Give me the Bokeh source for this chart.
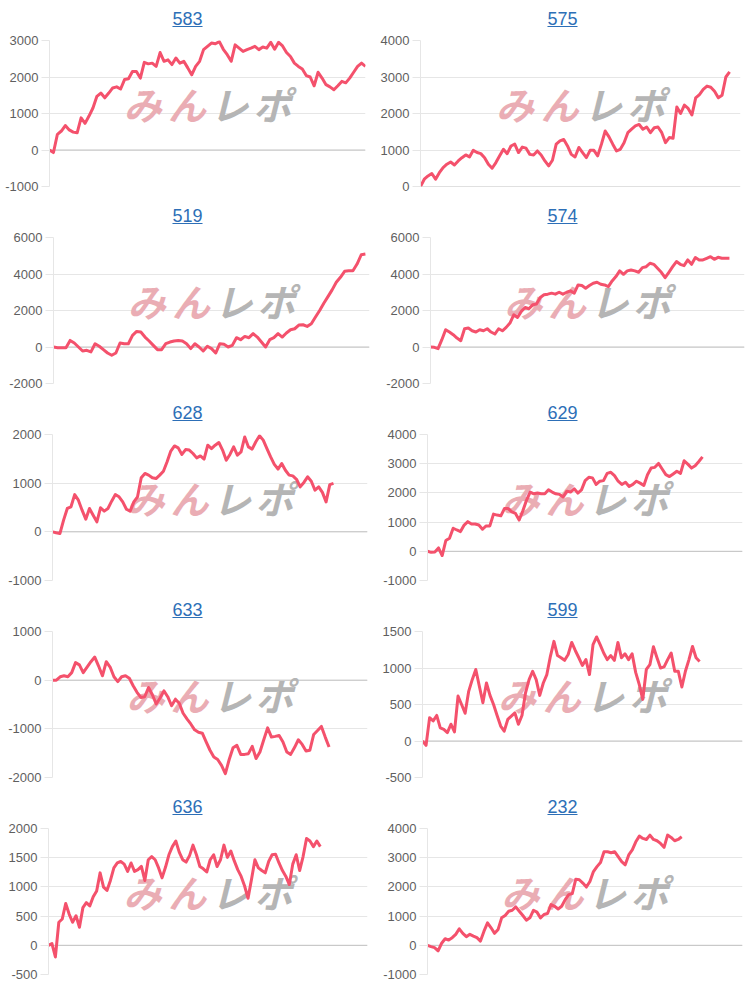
from bokeh.plotting import figure
from bokeh.models import Range1d, Div, FixedTicker, Label, Span, CustomJSTickFormatter
from bokeh.layouts import column, row
from bokeh.embed import file_html
from bokeh.resources import INLINE

# ---------------- data ----------------
names = ["583", "575", "519", "574", "628", "629", "633", "599", "636", "232"]

s583 = [0, -70, 430, 520, 670, 550, 490, 470, 880, 730, 930, 1150, 1470, 1560, 1430, 1560, 1700, 1730, 1670, 1930,
        1950, 2150, 2150, 1970, 2400, 2360, 2380, 2290, 2670, 2430, 2470, 2340, 2520, 2380, 2430, 2250, 2060, 2290,
        2430, 2750, 2840, 2930, 2910, 2970, 2760, 2610, 2430, 2880, 2790, 2700, 2750, 2790, 2840, 2750, 2820, 2790,
        2950, 2760, 2950, 2850, 2670, 2560, 2380, 2290, 2220, 2040, 2000, 1760, 2130, 1970, 1790, 1730, 1650, 1760,
        1880, 1840, 1970, 2130, 2290, 2380, 2290]
s575 = [0, 200, 290, 355, 200, 380, 520, 610, 670, 590, 700, 790, 865, 810, 990, 930, 900, 790, 610, 500, 655, 840,
        1020, 900, 1110, 1160, 930, 1080, 1050, 880, 865, 975, 865, 700, 565, 720, 1160, 1250, 1290, 1110, 880, 810,
        1070, 930, 790, 990, 990, 840, 1160, 1520, 1360, 1160, 975, 1020, 1200, 1475, 1570, 1660, 1700, 1570, 1630,
        1475, 1610, 1630, 1475, 1200, 1340, 1320, 2180, 2000, 2230, 2140, 1960, 2430, 2520, 2660, 2750, 2720, 2610,
        2430, 2500, 3000, 3140]
s519 = [0, -40, -40, -40, 360, 220, 0, -220, -180, -270, 180, 40, -145, -330, -455, -330, 220, 180, 180, 640, 855,
        820, 545, 330, 90, -145, -145, 180, 270, 330, 360, 330, 180, -90, 180, 0, -220, 40, -90, -330, 180, 145, 0,
        90, 510, 400, 580, 510, 730, 545, 270, 0, 400, 510, 730, 545, 765, 945, 1000, 1200, 1220, 1130, 1270, 1640,
        2000, 2400, 2760, 3130, 3545, 3820, 4145, 4180, 4180, 4545, 5055, 5090]
s574 = [0, -20, -90, 400, 945, 820, 675, 490, 345, 1000, 1040, 890, 820, 945, 890, 1000, 820, 710, 1000, 890, 1075,
        1310, 1765, 1620, 1950, 2165, 2095, 2310, 2350, 2710, 2860, 2895, 2950, 2895, 3000, 2895, 3000, 3075, 2950,
        3400, 3370, 3220, 3370, 3495, 3550, 3440, 3400, 3310, 3620, 3860, 4170, 3985, 4170, 4220, 4170, 4095, 4350,
        4400, 4590, 4530, 4310, 4095, 3800, 4095, 4400, 4680, 4530, 4460, 4770, 4530, 4900, 4770, 4770, 4860, 4950,
        4805, 4915, 4860, 4860, 4860]
s628 = [0, -20, -35, 240, 480, 515, 765, 650, 445, 260, 480, 340, 205, 495, 425, 480, 630, 765, 720, 615, 465, 425,
        615, 720, 1110, 1200, 1165, 1110, 1095, 1165, 1245, 1440, 1660, 1765, 1725, 1590, 1690, 1680, 1610, 1520,
        1560, 1495, 1780, 1710, 1780, 1835, 1680, 1470, 1590, 1745, 1575, 1645, 1950, 1745, 1700, 1850, 1975, 1885,
        1710, 1540, 1385, 1290, 1405, 1265, 1165, 1150, 1080, 925, 1015, 1130, 1040, 855, 925, 810, 615, 970, 995]
s629 = [0, -35, -25, 115, -145, 370, 450, 790, 730, 675, 900, 1015, 935, 935, 900, 755, 870, 870, 1275, 1240, 1215,
        1465, 1465, 1350, 1295, 1070, 1385, 1745, 2030, 1970, 1995, 1970, 1970, 2105, 2030, 1970, 1950, 1860, 2060,
        2030, 2140, 1995, 2105, 2420, 2535, 2515, 2290, 2400, 2420, 2670, 2705, 2590, 2400, 2290, 2365, 2220, 2290,
        2400, 2335, 2255, 2625, 2850, 2875, 3010, 2820, 2625, 2560, 2650, 2740, 2670, 3100, 2985, 2850, 2930, 3075,
        3235]
s633 = [0, 0, 70, 90, 70, 155, 360, 315, 155, 270, 380, 475, 290, 90, 380, 270, 70, -30, 70, 90, 40, -115, -250,
        -355, -340, -150, -300, -490, -365, -220, -340, -525, -390, -475, -680, -795, -900, -1020, -1070, -1090,
        -1270, -1440, -1580, -1630, -1750, -1920, -1630, -1390, -1340, -1525, -1525, -1510, -1360, -1610, -1475,
        -1225, -980, -1170, -1155, -1135, -1270, -1475, -1525, -1385, -1225, -1320, -1455, -1440, -1115, -1035,
        -950, -1170, -1375]
s599 = [0, -60, 320, 275, 350, 180, 160, 115, 230, 125, 615, 500, 380, 680, 840, 980, 750, 525, 795, 625, 500, 350,
        205, 135, 295, 340, 385, 230, 350, 660, 840, 955, 840, 625, 795, 910, 1160, 1365, 1170, 1140, 1105, 1185,
        1350, 1240, 1140, 1035, 1115, 910, 1320, 1425, 1320, 1205, 1115, 1170, 1105, 1350, 1140, 1195, 1115, 1195,
        940, 775, 570, 980, 1045, 1290, 1140, 1000, 1015, 1115, 1205, 955, 955, 740, 955, 1115, 1295, 1140, 1090]
s636 = [0, 30, -200, 395, 450, 715, 535, 395, 505, 310, 645, 730, 675, 830, 930, 1240, 995, 940, 1110, 1325, 1410,
        1435, 1390, 1265, 1410, 1265, 1295, 1350, 1110, 1465, 1520, 1465, 1325, 1155, 1335, 1550, 1690, 1785, 1595,
        1465, 1425, 1535, 1715, 1550, 1350, 1310, 1255, 1465, 1550, 1350, 1465, 1715, 1505, 1615, 1445, 1295, 1180,
        1015, 805, 1125, 1465, 1325, 1280, 1240, 1435, 1550, 1560, 1410, 1280, 1180, 1040, 1390, 1550, 1280, 1520,
        1830, 1785, 1690, 1785, 1690]
s232 = [0, -45, -80, -190, 70, 225, 180, 260, 375, 565, 410, 295, 375, 315, 260, 145, 485, 770, 600, 410, 545, 940,
        1020, 1165, 1200, 1315, 1165, 1020, 860, 940, 1200, 1135, 940, 1055, 1090, 1395, 1335, 1245, 1335, 1565,
        1735, 1770, 2265, 2245, 2130, 1995, 2185, 2525, 2695, 2835, 3205, 3205, 3170, 3205, 3035, 2865, 2755, 3095,
        3265, 3545, 3740, 3660, 3625, 3775, 3625, 3580, 3490, 3355, 3775, 3695, 3580, 3625, 3715]

series = [s583, s575, s519, s574, s628, s629, s633, s599, s636, s232]

y_min = [-1000, 0, -2000, -2000, -1000, -1000, -2000, -500, -500, -1000]
y_max = [3000, 4000, 6000, 6000, 2000, 4000, 1000, 1500, 2000, 4000]
y_step = [1000, 1000, 2000, 2000, 1000, 1000, 1000, 500, 500, 1000]

# watermark characters and colours
wm_chars = ["み", "ん", "レ", "ポ"]
wm_colors = ["#eaadb4", "#eaadb4", "#b5b5b5", "#b5b5b5"]

# ---------------- layout / style ----------------
cover = [1.0, 0.966, 0.987, 0.952, 0.892, 0.873, 0.878, 0.866, 0.852, 0.807]  # share of axis width covered
left_px = [49, 45, 53, 55, 52, 52, 52, 47, 48, 52]
right_px = [10, 10, 6, 6, 8, 8, 8, 8, 8, 8]
wm_pos = [0.295, 0.435, 0.57, 0.705]   # horizontal fractions of the frame for the watermark glyphs

CELL_W = 375
DIV_H = 30
FRAME_H = 146
LINE_COLOR = "#f4516c"
GRID = "#e6e6e6"


def make_cell(i):
    name = names[i]
    vals = series[i]
    last = i >= 8
    n = len(vals)
    x_end = (n - 1) / cover[i]
    top = 10
    bottom = 8 if last else 11
    p = figure(width=CELL_W, height=top + FRAME_H + bottom,
               x_range=Range1d(0, x_end), y_range=Range1d(y_min[i], y_max[i]),
               output_backend="svg", toolbar_location=None,
               min_border_left=left_px[i], min_border_right=right_px[i],
               min_border_top=top, min_border_bottom=bottom)
    p.outline_line_color = None
    p.background_fill_color = "white"
    p.border_fill_color = "white"
    p.xaxis.visible = False
    p.xgrid.visible = False

    ticks = list(range(y_min[i], y_max[i] + 1, y_step[i]))
    p.yaxis.ticker = FixedTicker(ticks=ticks)
    p.ygrid.ticker = FixedTicker(ticks=ticks)
    p.yaxis.formatter = CustomJSTickFormatter(code="return String(Math.round(tick));")
    p.ygrid.grid_line_color = GRID
    p.ygrid.grid_line_width = 1
    p.yaxis.axis_line_color = GRID
    p.yaxis.major_tick_line_color = GRID
    p.yaxis.major_tick_out = 8
    p.yaxis.major_tick_in = 0
    p.yaxis.minor_tick_line_color = None
    p.yaxis.major_label_standoff = 3
    p.yaxis.major_label_text_font = "Liberation Sans"
    p.yaxis.major_label_text_font_size = "13px"
    p.yaxis.major_label_text_color = "#5f5f5f"

    # zero line darker (Chart.js style)
    p.add_layout(Span(location=0, dimension="width", line_color="#c2c2c2", line_width=1, level="underlay"))

    # watermark
    wy = y_min[i] + 0.57 * (y_max[i] - y_min[i])
    for ch, col, fx in zip(wm_chars, wm_colors, wm_pos):
        p.add_layout(Label(x=fx * x_end, y=wy, text=ch, text_align="center", text_baseline="middle",
                           text_font="Noto Sans CJK JP", text_font_style="bold italic",
                           text_font_size="38px", text_color=col, level="underlay"))

    p.line(list(range(n)), vals, line_width=3, line_color=LINE_COLOR, line_join="round")

    div = Div(text=(f'<div style="width:{CELL_W}px;text-align:center;padding-top:7px;">'
                    f'<a style="color:#2d6fb7;text-decoration:underline;'
                    f"font-family:'Liberation Sans',Arial,sans-serif;font-size:18px;\">{name}</a></div>"),
              width=CELL_W, height=DIV_H, margin=(0, 0, 0, 0))
    return column(div, p, spacing=0)


cells = [make_cell(i) for i in range(10)]
rows = [row(cells[2 * r], cells[2 * r + 1], spacing=0) for r in range(5)]
layout = column(*rows, spacing=0)

open("out.html", "w").write(file_html(layout, INLINE))
